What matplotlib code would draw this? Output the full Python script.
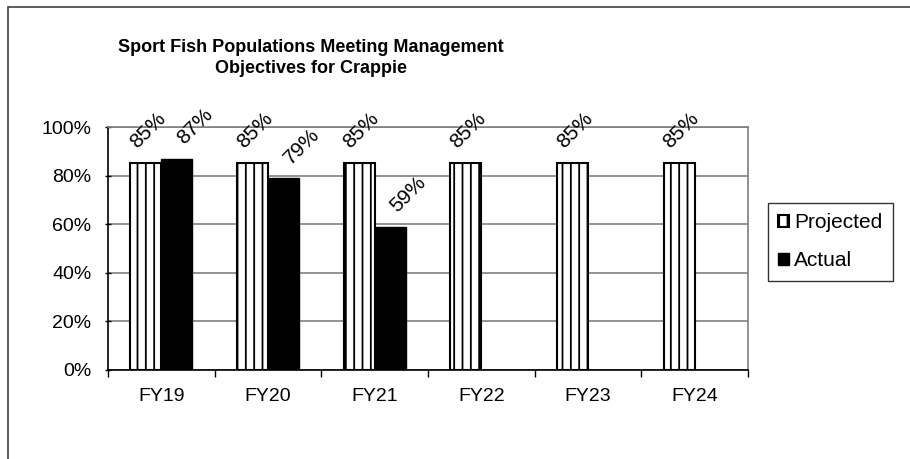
import matplotlib
matplotlib.use("Agg")
import matplotlib.pyplot as plt
import numpy as np
from matplotlib.patches import Rectangle
from matplotlib.ticker import FuncFormatter, FixedLocator

categories = ["FY19", "FY20", "FY21", "FY22", "FY23", "FY24"]
projected = [85, 85, 85, 85, 85, 85]
actual = [87, 79, 59, None, None, None]
title = "Sport Fish Populations Meeting Management\nObjectives for Crappie"

plt.rcParams['font.family'] = ['Liberation Sans', 'DejaVu Sans']
plt.rcParams['hatch.linewidth'] = 1.3

fig = plt.figure(figsize=(9.1, 4.59), dpi=100)
W, H = 910, 459
ax = fig.add_axes([108 / W, 1 - 370 / H, (748 - 108) / W, (370 - 127) / H])

x = np.arange(len(categories))
bw = 0.29
proj_bars = ax.bar(x - bw / 2, [p / 100 for p in projected], width=bw, facecolor='white',
                   edgecolor='black', hatch='||', linewidth=1.5, zorder=3, label='Projected')
act_idx = [i for i, a in enumerate(actual) if a is not None]
act_bars = ax.bar([x[i] + bw / 2 for i in act_idx], [actual[i] / 100 for i in act_idx], width=bw,
                  facecolor='black', edgecolor='black', linewidth=1.0, zorder=3, label='Actual')

for i, p in enumerate(projected):
    ax.annotate(f"{p}%", (x[i] - bw / 2, p / 100), xytext=(1.5, 24), textcoords='offset points',
                rotation=45, ha='center', va='center', fontsize=15, zorder=5)
for i in act_idx:
    a = actual[i]
    ax.annotate(f"{a}%", (x[i] + bw / 2, a / 100), xytext=(13, 23), textcoords='offset points',
                rotation=45, ha='center', va='center', fontsize=15, zorder=5)

ax.set_xlim(-0.5, len(categories) - 0.5)
ax.set_ylim(0, 1)
ax.yaxis.set_major_locator(FixedLocator([0, 0.2, 0.4, 0.6, 0.8, 1.0]))
ax.yaxis.set_major_formatter(FuncFormatter(lambda v, _: f"{int(round(v * 100))}%"))
ax.set_xticks(x)
ax.set_xticklabels(categories, fontsize=14)
ax.set_xticks(np.arange(-0.5, len(categories)), minor=True)
ax.tick_params(axis='x', which='major', length=0, pad=13)
ax.tick_params(axis='x', which='minor', length=5, width=1, direction='out', color='black')
ax.tick_params(axis='y', which='major', length=5, width=1, direction='inout', color='black',
               labelsize=14, pad=9.5)
ax.grid(axis='y', color='#808080', linewidth=1.2, zorder=0)
ax.set_axisbelow(True)
for s in ['top', 'right']:
    ax.spines[s].set_color('#808080')
    ax.spines[s].set_linewidth(1.2)
for s in ['left', 'bottom']:
    ax.spines[s].set_color('black')
    ax.spines[s].set_linewidth(1.2)

fig.text(311 / W, 1 - 58 / H, title, ha='center', va='center', fontsize=13,
         fontweight='bold', linespacing=1.3)

leg = fig.legend(handles=[proj_bars, act_bars], loc='upper left',
                 bbox_to_anchor=(768 / W, 1 - 203 / H), frameon=True, fancybox=False,
                 edgecolor='black', fontsize=15, handlelength=0.5, handleheight=0.5,
                 handletextpad=0.25, labelspacing=0.9, borderpad=0.5, borderaxespad=0)
leg.get_frame().set_linewidth(1.0)

fig.patches.append(Rectangle((8 / W, -0.1), 1.2, 1 - 7 / H + 0.1, transform=fig.transFigure,
                             fill=False, edgecolor='#404040', linewidth=1.2))

fig.savefig("out.png", dpi=100)
